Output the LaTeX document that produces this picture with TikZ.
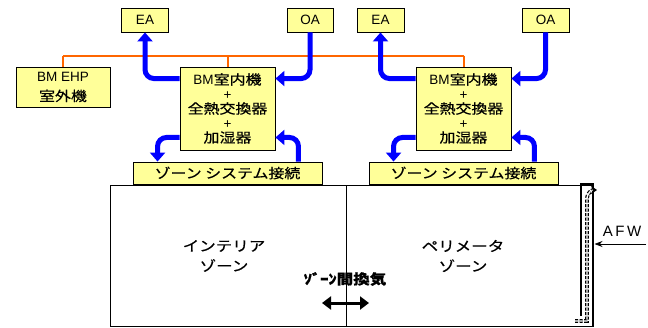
\documentclass[tikz,border=0pt]{standalone}
\usepackage{fontspec}
\setmainfont{Liberation Sans}
\newfontfamily\jp[FakeStretch=1.18,FakeBold=0.6]{Noto Sans CJK JP}
\usetikzlibrary{arrows.meta,calc}
\definecolor{boxyellow}{HTML}{FFFF99}
\definecolor{arrowblue}{HTML}{0000FF}
\definecolor{pipeorange}{HTML}{FF6600}
\tikzset{
  ybox/.style={draw=black, line width=0.9pt, fill=boxyellow, inner sep=0pt, align=center,
    font=\fontsize{13.5}{14.5}\selectfont},
  barrow/.style={draw=arrowblue, line width=5pt, rounded corners=9pt,
    -{Triangle[width=15pt,length=9pt]}},
  oline/.style={draw=pipeorange, line width=2pt},
  zline/.style={draw=black, line width=0.8pt},
  ztext/.style={align=center, font=\fontsize{14}{20}\selectfont\jp}
}
\begin{document}
\begin{tikzpicture}[x=1pt,y=-1pt]
\useasboundingbox (0,0) rectangle (648,327);
% boxes
\node[ybox, minimum width=47pt, minimum height=24pt] (EAL) at (145,20) {EA};
\node[ybox, minimum width=46pt, minimum height=24pt] (OAL) at (310,20) {OA};
\node[ybox, minimum width=47pt, minimum height=24pt] (EAR) at (380.5,20) {EA};
\node[ybox, minimum width=47pt, minimum height=24pt] (OAR) at (545.5,20) {OA};
\node[ybox, minimum width=94pt, minimum height=40pt, font=\fontsize{13.5}{20}\selectfont] (EHP) at (63,87) {BM EHP\\{\jp 室外機}};
\node[ybox, minimum width=95pt, minimum height=83pt] (IL) at (227.5,108.5) {BM{\jp 室内機}\\+\\{\jp 全熱交換器}\\+\\{\jp 加湿器}};
\node[ybox, minimum width=95pt, minimum height=83pt] (IR) at (463.5,108.5) {BM{\jp 室内機}\\+\\{\jp 全熱交換器}\\+\\{\jp 加湿器}};
\node[ybox, minimum width=189pt, minimum height=22pt] (ZL) at (227.5,173) {\jp ゾーン システム接続};
\node[ybox, minimum width=189pt, minimum height=22pt] (ZR) at (463.5,173) {\jp ゾーン システム接続};
% orange pipes
\coordinate (P1) at ($(EHP.north)+(0,-11)$);
\coordinate (P2) at ($(IL.north)+(0,-11)$);
\coordinate (P3) at ($(IR.north)+(0,-11)$);
\draw[oline] (EHP.north) -- (P1);
\draw[oline] (P1) -- (P3);
\draw[oline] (P2) -- (IL.north);
\draw[oline] (P3) -- (IR.north);
% blue arrows left unit
\draw[barrow] ($(IL.north west)+(0,12)$) -| (EAL.south);
\draw[barrow] (OAL.south) |- ($(IL.north east)+(0,12)$);
\draw[barrow] ($(IL.south west)+(0,-13)$) -| ($(ZL.north west)+(25,0)$);
\draw[barrow] ($(ZL.north east)+(-24,0)$) |- ($(IL.south east)+(0,-13)$);
% blue arrows right unit
\draw[barrow] ($(IR.north west)+(0,12)$) -| (EAR.south);
\draw[barrow] (OAR.south) |- ($(IR.north east)+(0,12)$);
\draw[barrow] ($(IR.south west)+(0,-13)$) -| ($(ZR.north west)+(25,0)$);
\draw[barrow] ($(ZR.north east)+(-24,0)$) |- ($(IR.south east)+(0,-13)$);
% zones
\draw[zline] (581,185) -- (110,185) -- (110,326) -- (593,326);
\draw[zline] (346,185) -- (346,326);
\node[ztext] (IZ) at (224,256) {インテリア\\ゾーン};
\node[ztext] (PZ) at (463,256) {ペリメータ\\ゾーン};
\node[font=\fontsize{14}{16}\selectfont\jp\bfseries] (ZV) at (345,279) {ｿﾞｰﾝ間換気};
\coordinate (VA) at (322,303);
\coordinate (VB) at (369,303);
\draw[line width=3pt, {Triangle[width=13pt,length=9pt]}-{Triangle[width=13pt,length=9pt]}] (VA) -- (VB);
% AFW
\draw[line width=2.6pt] (581,316) -- (581,184.5) -- (593,184.5) -- (593,327);
\draw[line width=1.2pt, dash pattern=on 3pt off 1.5pt, double=white, double distance=1.4pt,
  -{Stealth[length=6pt,width=8pt]}] (575,321) -- (587,321) -- (587,198) to[out=90,in=180] (597,190);
\node[font=\fontsize{15}{16}\selectfont, inner sep=0pt] (AFW) at (622,231) {A\,F\,W};
\coordinate (AFWs) at (646,244);
\draw[line width=0.9pt, -{Stealth[length=8pt,width=6pt]}] (AFWs) -- (594.5,244);
\end{tikzpicture}
\end{document}
